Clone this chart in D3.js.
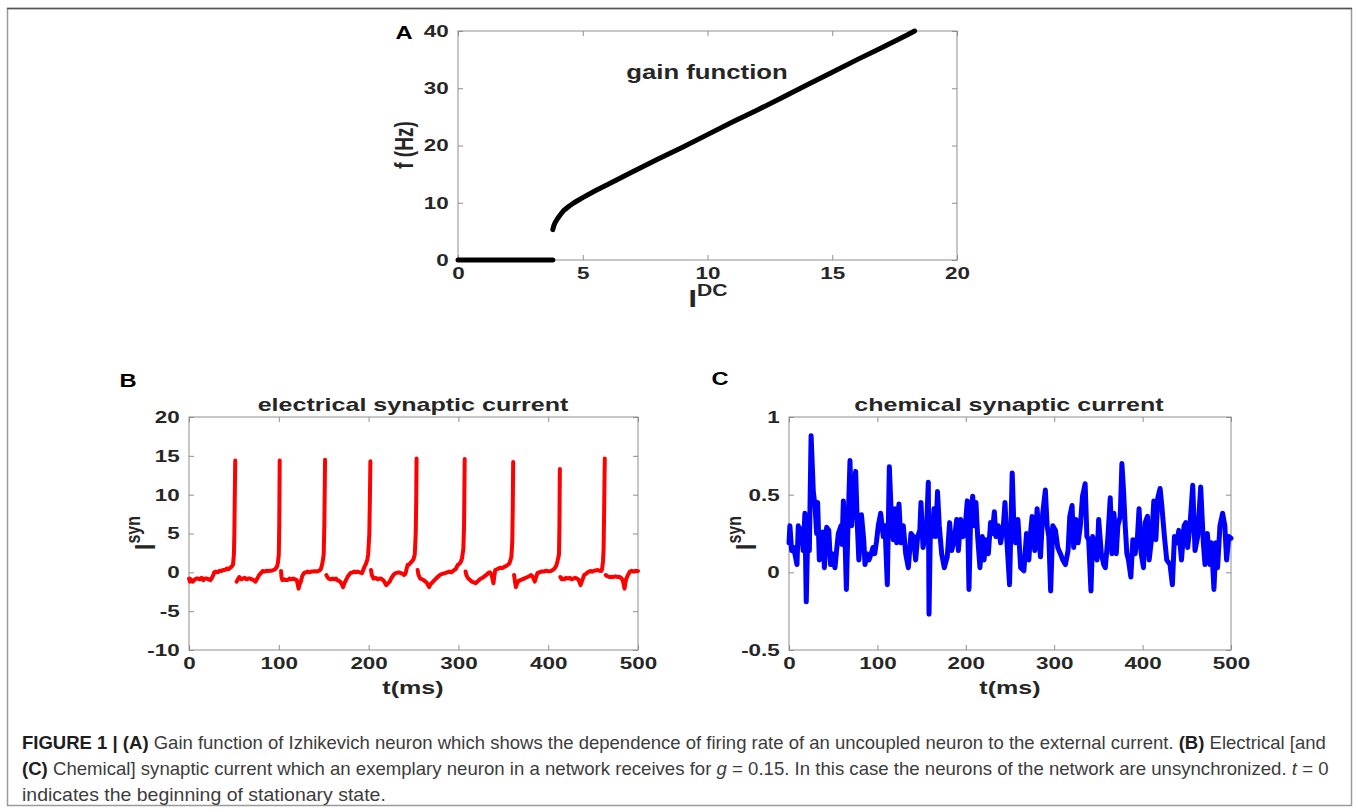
<!DOCTYPE html>
<html>
<head>
<meta charset="utf-8">
<title>Figure 1 - gain function and synaptic currents</title>
<script src="https://d3js.org/d3.v7.min.js"></script>
<style>
  body { margin: 0; background: #fff; }
  svg text { font-family: "Liberation Sans", Arial, Helvetica, sans-serif; white-space: pre; }
  svg text.caption { font-family: "Liberation Sans Narrow", "Arial Narrow", "Liberation Sans", sans-serif; }
</style>
</head>
<body>
<div id="fig"></div>
<script>
// ---- data ----
// panel A: gain function f(I_DC)
const restCurve = [[0, 0], [1, 0], [2, 0], [3, 0], [3.8, 0]];
const gainCurve = [
  [3.8, 5.3], [3.84, 6.0], [3.9, 6.6], [4.0, 7.3], [4.1, 7.9], [4.25, 8.7], [4.45, 9.4],
  [4.65, 10.0], [5, 10.9], [5.5, 12.1], [6, 13.2], [7, 15.4], [8, 17.6], [9, 19.7],
  [10, 21.9], [11, 24.1], [12, 26.2], [13, 28.4], [14, 30.6], [15, 32.8], [16, 35.0],
  [17, 37.1], [18, 39.3], [18.3, 40.0]
];

// panel B: electrical synaptic current (null = break after a spike)
const elecTrace = [
  [0,-0.8],[1,-1.2],[2,-0.9],[4,-1.2],[6,-1.0],[8,-0.8],[10,-0.8],[12,-0.9],[14,-0.7],[16,-1.0],
  [18,-0.8],[20,-0.8],[22,-0.9],[24,-1.0],[26,-0.6],[27,-0.35],[28,0.0],[30,0.1],[32,0.0],[34,0.2],
  [36,0.17],[38,0.3],[40,0.3],[42,0.5],[44,0.4],[46,0.6],[48,0.8],[49,1.0],[50,2.3],[50.5,4.9],
  [51,10],[51.5,14.4],[52,null],
  [53,-1.2],[54,-1.0],[56,-0.6],[58,-0.9],[60,-0.8],[62,-0.7],[64,-0.9],[66,-0.8],[68,-0.8],[70,-0.9],
  [72,-1.0],[74,-1.2],[76,-0.8],[78,-0.35],[80,-0.1],[82,0.17],[84,0.1],[86,0.2],[88,0.17],[90,0.2],
  [92,0.2],[94,0.3],[96,0.4],[98,0.74],[99,1.2],[100,2.3],[100.5,6],[101,14.4],[102,null],
  [102.5,0.17],[103,-0.6],[104,-1.0],[106,-0.9],[108,-1.0],[110,-1.0],[112,-0.8],[114,-0.9],[116,-0.8],
  [118,-0.9],[120,-1.0],[121,-1.5],[122,-2.1],[123,-1.6],[124.5,-1.2],[126,-0.5],[128,-0.1],[130,0.0],
  [132,0.1],[134,0.0],[136,0.1],[138,0.1],[140,0.15],[142,0.1],[144,0.17],[146,0.3],[147,0.5],[148,0.9],
  [149,1.5],[150,2.3],[150.7,6],[151.5,14.5],[152.5,null],
  [153,-0.35],[154,-0.6],[155.6,-0.8],[158,-0.9],[160,-0.8],[162,-0.9],[163.6,-0.8],[165,-1.0],[167,-1.1],
  [168.4,-1.2],[170,-1.5],[171.6,-1.9],[173,-1.4],[174.8,-1.0],[177,-0.5],[179.6,-0.1],[182,0.0],[184,0.1],
  [186,0.0],[187.6,0.1],[190,0.0],[192.7,-0.1],[194,0.3],[195.5,0.74],[197,1.1],[198.5,1.6],[199.5,2.3],
  [200.8,5],[201.5,10],[202,14.3],[202.4,null],
  [202.7,0.3],[203.5,-0.3],[205.5,-0.8],[208,-0.7],[210,-0.9],[212,-0.8],[213.5,-0.8],[215,-0.9],[217,-1.1],
  [219.5,-1.65],[221,-1.5],[223.5,-1.2],[225,-0.8],[227.5,-0.35],[230,-0.1],[233.4,0.0],[236,-0.1],[238,-0.2],
  [239.4,-0.35],[241,-0.2],[243.4,0.96],[245,1.0],[246.5,1.2],[248.2,1.4],[250,1.7],[251.4,2.3],[252.5,5],
  [253,9],[253.4,14.65],[254,null],
  [254.6,0.3],[255.5,-0.3],[257.4,-0.8],[260,-0.9],[263.4,-1.2],[265,-1.4],[267.4,-1.9],[269,-1.5],[271,-1.3],
  [273.3,-1.0],[276,-0.7],[279.3,-0.35],[282,-0.2],[285,-0.1],[287.3,0.0],[290,0.1],[292,0.0],[295.3,0.3],
  [297,0.4],[299.3,0.96],[301,1.1],[302.5,1.3],[304,1.8],[305.5,3],[306.3,6],[307,14.6],[307.5,null],
  [308,0.1],[309,-0.4],[311,-0.8],[313,-1.0],[315,-1.2],[317,-1.3],[319,-1.4],[321,-1.2],[323,-1.0],
  [325,-0.8],[327,-0.7],[329,-0.5],[331,-0.35],[333,-0.1],[335,0.0],[337,-0.3],[339,-1.4],[340,-0.5],
  [341,0.3],[343,0.4],[345,0.5],[347,0.6],[349,0.55],[351,0.7],[353,0.8],[355,0.96],[357,1.2],[359,2.0],
  [360,4],[360.5,8],[361,14.2],[361.5,null],
  [362,-0.35],[363,-1.2],[364,-1.9],[365.5,-1.4],[367,-1.1],[369,-1.0],[371,-0.9],[373,-0.8],[375,-0.7],
  [377,-0.6],[379,-0.5],[381,-0.35],[383,-0.6],[385,-1.2],[386,-0.8],[388,-0.1],[390,0.0],[392,0.1],
  [395,0.1],[397,0.2],[400,0.15],[403,0.17],[405,0.3],[407,0.5],[409,0.87],[410.5,1.5],[412,2.3],
  [412.5,6],[413,13.3],[413.3,null],
  [413.5,-0.6],[415,-0.9],[416,-0.8],[418,-0.9],[420,-0.7],[422,-0.8],[424,-0.7],[426,-0.9],[428,-0.8],
  [430,-0.7],[432,-0.8],[434,-1.0],[436,-1.65],[438,-1.0],[440,-0.35],[442,-0.2],[444,0.0],[447,0.17],
  [449,0.1],[451,0.2],[453,0.25],[455,0.3],[457,0.2],[459,0.17],[460,0.4],[461,1.4],[461.7,3],[462.3,8],
  [463,14.65],[463.5,null],
  [464,-0.35],[466,-0.5],[468,-0.6],[471,-0.57],[473,-0.6],[475,-0.5],[477,-0.6],[479,-0.57],[481,-0.7],
  [483,-1.0],[485,-2.1],[486,-1.3],[487,-0.8],[489,-0.3],[491,0.1],[493,0.2],[495,0.1],[497,0.2],
  [499,0.17],[500,0.17]
];

// panel C: chemical synaptic current
const chemTrace = [
  [0,0.19],[1,0.30],[3,0.14],[5,0.16],[7,0.11],[9,0.05],[10.5,0.30],[12,0.22],[14,0.28],[16,0.14],
  [18,0.38],[19.5,-0.19],[21,0.2],[22,0.32],[23,0.14],[25,0.88],[27.5,0.52],[29.4,0.43],[31.3,0.25],
  [32.4,0.45],[34.3,0.08],[37,0.14],[38.5,0.26],[40,0.03],[42.6,0.29],[45,0.27],[47,0.05],[49,0.12],
  [52,0.03],[54,0.15],[55.8,0.25],[58.8,0.30],[60,0.18],[61.5,0.46],[63.3,0.23],[64.9,-0.11],[66.4,0.23],
  [69,0.72],[70.9,0.30],[73,0.52],[75.4,0.65],[77.3,0.30],[79,0.08],[80.5,0.2],[82,0.37],[84.5,0.21],
  [86,0.05],[88,0.12],[90.5,0.08],[93,0.12],[95,0.16],[97,0.12],[99,0.2],[101,0.30],[103.7,0.38],
  [106.7,0.23],[108.6,0.30],[111.2,-0.08],[113.5,0.68],[115.4,0.41],[118,0.21],[119.9,0.41],[121.8,0.19],
  [124.4,0.44],[126.7,0.19],[129.3,0.30],[132,0.12],[135,0.03],[138,0.25],[140.6,0.23],[143.3,0.08],
  [145.5,0.23],[148,0.27],[149.3,0.45],[151.6,0.16],[153.8,0.23],[155.7,0.30],[157.6,0.58],[158.4,-0.27],
  [160,0.30],[162,0.23],[164,0.41],[166,0.23],[168,0.52],[170,0.30],[172.7,0.12],[175.7,0.03],[179,0.10],
  [181.7,0.32],[184,0.14],[187,0.21],[189.7,0.34],[191.6,0.14],[194.2,0.34],[197,0.23],[199,0.27],
  [201.7,0.46],[203.6,-0.11],[205.5,0.36],[207.8,0.49],[209.7,0.30],[211.5,0.45],[213.4,0.23],[216,0.03],
  [218.7,0.23],[220.6,0.08],[222.9,0.21],[225.5,0.12],[228,0.32],[230,0.25],[232.3,0.39],[234,0.23],
  [236.8,0.30],[239.4,0.19],[242.5,0.30],[244.3,0.45],[246.5,0.2],[249.5,-0.08],[252.5,0.64],[254.4,0.30],
  [256.3,0.19],[259,0.34],[262,0.03],[265.7,0.01],[268.7,0.25],[271.3,0.08],[273.2,0.25],[275,0.36],
  [278,0.14],[280.7,0.41],[282.6,0.23],[284.5,0.10],[287,0.38],[290,0.53],[292,0.30],[293.9,0.23],
  [296,-0.12],[298.4,0.30],[301.4,0.27],[304,0.16],[307,0.12],[309.7,0.08],[312.7,0.05],[315.7,0.14],
  [317.6,0.36],[320.2,0.43],[322,0.16],[324.7,0.34],[327,0.19],[329.6,0.30],[332,0.49],[335,0.57],
  [337,0.23],[339,0.21],[341.6,-0.12],[343.5,0.23],[346.5,0.16],[348.4,0.08],[350.3,0.34],[353.3,0.12],
  [356,0.05],[357.8,0.03],[360.8,0.23],[363.4,0.48],[365.3,0.12],[367.6,0.38],[370.2,0.12],[372,0.30],
  [374.7,0.36],[376.6,0.70],[378.5,0.52],[380.3,0.30],[382.2,0.12],[384,0.08],[386.7,-0.03],[389,0.21],
  [391.6,0.12],[394.2,0.23],[396,0.41],[398.4,0.12],[401,0.03],[402.9,0.32],[405.5,0.36],[407.4,0.08],
  [410.4,0.23],[412.7,0.46],[415,0.21],[417.2,0.48],[419.8,0.54],[421.7,0.43],[424.7,0.23],[427.3,0.08],
  [431,0.05],[433.7,-0.08],[436,0.23],[438.6,0.19],[441,0.27],[444,0.08],[446.9,0.30],[449,0.32],
  [451,0.16],[453.6,0.30],[456.7,0.56],[459.3,0.14],[462.3,0.23],[465.7,0.55],[468.7,0.19],[470.6,0.05],
  [473.2,0.25],[476.2,0.05],[478,0.19],[480.7,-0.11],[483,0.19],[484.8,0.03],[487.5,0.30],[490.5,0.38],
  [493,0.30],[495,0.08],[497.6,0.23],[500,0.22]
];

// tick values
const ticksA_x = [0, 5, 10, 15, 20];
const ticksA_y = [0, 10, 20, 30, 40];
const ticksT = [0, 100, 200, 300, 400, 500];
const ticksB_y = [-10, -5, 0, 5, 10, 15, 20];
const ticksC_y = [-0.5, 0, 0.5, 1];

// caption, split in its three printed lines; b = bold, i = italic
const captionLines = [
  [['FIGURE 1 | (A)', 'b'], [' Gain function of Izhikevich neuron which shows the dependence of firing rate of an uncoupled neuron to the external current. ', ''], ['(B)', 'b'], [' Electrical [and', '']],
  [['(C)', 'b'], [' Chemical] synaptic current which an exemplary neuron in a network receives for ', ''], ['g', 'i'], [' = 0.15. In this case the neurons of the network are unsynchronized. ', ''], ['t', 'i'], [' = 0', '']],
  [['indicates the beginning of stationary state.', '']]
];

// ---- drawing ----
const W = 1358, H = 812;
const K = 1.32;            // the printed figure is stretched sideways
const ink = '#262626';
const boxGray = '#8f8f8f';

const svg = d3.select('#fig').append('svg')
  .attr('width', W)
  .attr('height', H);

// outer frame
svg.append('rect')
  .attr('x', 7.5).attr('y', 8.5)
  .attr('width', 1344).attr('height', 797)
  .attr('fill', 'none').attr('stroke', '#9a9a9a').attr('stroke-width', 1.5);
svg.append('line')
  .attr('x1', 7).attr('x2', 1352).attr('y1', 8.5).attr('y2', 8.5)
  .attr('stroke', '#555').attr('stroke-width', 1.5);

function styleAxis(sel) {
  sel.select('.domain').remove();
  sel.selectAll('.tick line').attr('stroke', boxGray);
  sel.selectAll('text')
    .attr('font-size', 17)
    .attr('font-weight', 'bold')
    .attr('fill', ink)
    .attr('transform', `scale(${K},1)`);
}

function drawAxes(p) {
  const x = d3.scaleLinear().domain(p.xDom).range([p.left, p.right]);
  const y = d3.scaleLinear().domain(p.yDom).range([p.bottom, p.top]);
  const g = svg.append('g');

  g.append('g')
    .attr('transform', `translate(0,${p.bottom})`)
    .call(d3.axisBottom(x).tickValues(p.xTicks).tickFormat(d => String(d))
      .tickSizeInner(-5).tickSizeOuter(0).tickPadding(7))
    .call(styleAxis);
  g.append('g')
    .attr('transform', `translate(0,${p.top})`)
    .call(d3.axisTop(x).tickValues(p.xTicks).tickFormat('').tickSizeInner(-5).tickSizeOuter(0))
    .call(styleAxis);
  g.append('g')
    .attr('transform', `translate(${p.left},0)`)
    .call(d3.axisLeft(y).tickValues(p.yTicks).tickFormat(d => String(d))
      .tickSizeInner(-5).tickSizeOuter(0).tickPadding(7))
    .call(styleAxis);
  g.append('g')
    .attr('transform', `translate(${p.right},0)`)
    .call(d3.axisRight(y).tickValues(p.yTicks).tickFormat('').tickSizeInner(-5).tickSizeOuter(0))
    .call(styleAxis);

  g.append('rect')
    .attr('x', p.left).attr('y', p.top)
    .attr('width', p.right - p.left).attr('height', p.bottom - p.top)
    .attr('fill', 'none').attr('stroke', boxGray);
  return { x, y };
}

function plotLine(sc, data, color, width) {
  const line = d3.line()
    .defined(d => d[1] !== null)
    .x(d => sc.x(d[0]))
    .y(d => sc.y(d[1]));
  svg.append('path')
    .datum(data)
    .attr('d', line)
    .attr('fill', 'none')
    .attr('stroke', color)
    .attr('stroke-width', width)
    .attr('stroke-linejoin', 'round')
    .attr('stroke-linecap', 'round');
}

// plain text, stretched sideways like the source
function label(x, y, str, size, anchor) {
  return svg.append('text')
    .attr('transform', `translate(${x},${y}) scale(${K},1)`)
    .attr('text-anchor', anchor || 'middle')
    .attr('font-size', size)
    .attr('font-weight', 'bold')
    .attr('fill', ink)
    .text(str);
}

// "I" with a superscript
function symbolLabel(x, y, sup, rotated) {
  const t = svg.append('text')
    .attr('transform', rotated
      ? `translate(${x},${y}) rotate(-90) scale(1,${K})`
      : `translate(${x},${y}) scale(${K},1)`)
    .attr('text-anchor', 'middle')
    .attr('font-weight', 'bold')
    .attr('fill', ink);
  t.append('tspan').attr('font-size', 23).text('I');
  t.append('tspan').attr('font-size', 16).attr('dy', -11).text(sup);
  return t;
}

// panel A
const scA = drawAxes({ left: 458, right: 957, top: 31, bottom: 260,
  xDom: [0, 20], yDom: [0, 40], xTicks: ticksA_x, yTicks: ticksA_y });
plotLine(scA, restCurve, '#000', 5);
plotLine(scA, gainCurve, '#000', 5);
label(404, 39, 'A', 18).attr('fill', '#000');
label(707, 79, 'gain function', 19.5);
svg.append('text')
  .attr('transform', `translate(413,145) rotate(-90) scale(1,${K})`)
  .attr('text-anchor', 'middle')
  .attr('font-size', 19).attr('font-weight', 'bold').attr('fill', ink)
  .text('f (Hz)');
symbolLabel(708, 307, 'DC', false);

// panel B
const scB = drawAxes({ left: 189, right: 638, top: 417, bottom: 650,
  xDom: [0, 500], yDom: [-10, 20], xTicks: ticksT, yTicks: ticksB_y });
plotLine(scB, elecTrace, '#ff0000', 4);
label(128, 387, 'B', 18).attr('fill', '#000');
label(413, 411, 'electrical synaptic current', 19);
label(413, 694, 't(ms)', 19);
symbolLabel(155, 533, 'syn', true);

// panel C
const scC = drawAxes({ left: 789, right: 1231, top: 417, bottom: 650,
  xDom: [0, 500], yDom: [-0.5, 1], xTicks: ticksT, yTicks: ticksC_y });
plotLine(scC, chemTrace, '#0000ff', 5);
label(720, 385, 'C', 18).attr('fill', '#000');
label(1009, 411, 'chemical synaptic current', 19);
label(1010, 694, 't(ms)', 19);
symbolLabel(756, 533, 'syn', true);

// caption
const capX = 22, capBase = [749, 775, 801], capWidth = [1305, 1307, 364];
captionLines.forEach((parts, i) => {
  const t = svg.append('text')
    .attr('class', 'caption')
    .attr('font-size', 18)
    .attr('fill', '#3c3c3c');
  parts.forEach(([s, st]) => {
    t.append('tspan')
      .attr('font-weight', st === 'b' ? 'bold' : 'normal')
      .attr('font-style', st === 'i' ? 'italic' : 'normal')
      .attr('fill', st === 'b' ? '#1e1e1e' : null)
      .text(s);
  });
  const w = t.node().getComputedTextLength();
  t.attr('transform', `translate(${capX},${capBase[i]}) scale(${capWidth[i] / w},1)`);
});
</script>
</body>
</html>
